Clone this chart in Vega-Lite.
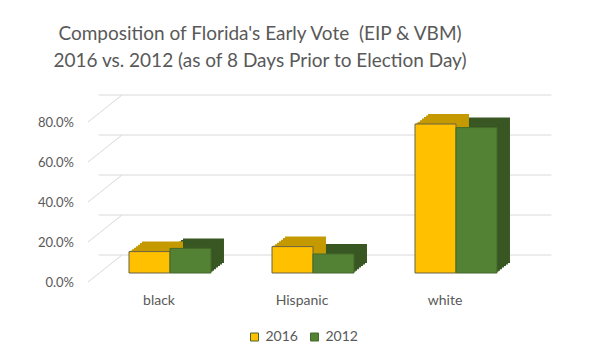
{
  "$schema": "https://vega.github.io/schema/vega-lite/v6.json",
  "width": 429,
  "height": 160,
  "autosize": "none",
  "padding": {"left": 98.5, "top": 113, "right": 72.5, "bottom": 90},
  "background": "white",
  "config": {
    "view": {"stroke": null},
    "font": "Lato",
    "axis": {"labelFont": "Lato", "labelColor": "#595959", "labelFontSize": 13, "ticks": false, "domain": false, "grid": false, "title": null, "labelOverlap": false},
    "axisY": {"values": [0, 0.2, 0.4, 0.6, 0.8], "format": ".1%", "labelOffset": 9, "labelPadding": 25, "labelOverlap": false, "labelBound": false, "tickCount": 5},
    "bar": {"width": {"band": 0.5}}
  },
  "title": {
    "text": ["Composition of Florida's Early Vote \u00a0(EIP & VBM)", "2016 vs. 2012 (as of 8 Days Prior to Election Day)"],
    "font": "Lato",
    "fontSize": 19,
    "fontWeight": "normal",
    "color": "#595959",
    "anchor": "middle",
    "dx": -53,
    "lineHeight": 27,
    "offset": 24
  },
  "datasets": {
    "votes": [
      {"group": "black", "year": "2016", "share": 0.107},
      {"group": "black", "year": "2012", "share": 0.123},
      {"group": "Hispanic", "year": "2016", "share": 0.132},
      {"group": "Hispanic", "year": "2012", "share": 0.095},
      {"group": "white", "year": "2016", "share": 0.745},
      {"group": "white", "year": "2012", "share": 0.727}
    ],
    "ticks": [{"v": 0}, {"v": 0.2}, {"v": 0.4}, {"v": 0.6}, {"v": 0.8}]
  },
  "resolve": {"scale": {"x": "independent"}},
  "layer": [
    {
      "data": {"name": "ticks"},
      "mark": {"type": "rule", "color": "#D9D9D9", "strokeWidth": 1, "xOffset": 24, "x2Offset": 24, "yOffset": -18, "y2Offset": -18},
      "encoding": {
        "y": {"field": "v", "type": "quantitative", "scale": {"domain": [0, 0.8], "nice": false, "zero": true},
              "axis": {"values": [0, 0.2, 0.4, 0.6, 0.8], "format": ".1%", "labelOffset": 9, "labelPadding": 25, "labelOverlap": false}}
      }
    },
    {
      "data": {"name": "ticks"},
      "mark": {"type": "rule", "color": "#D9D9D9", "strokeWidth": 1, "xOffset": -10.5, "x2Offset": 23.5, "yOffset": 9, "y2Offset": -18},
      "encoding": {
        "x": {"datum": 0, "type": "quantitative", "scale": {"domain": [0, 1]}, "axis": null},
        "x2": {"datum": 0},
        "y": {"field": "v", "type": "quantitative",
              "axis": {"values": [0, 0.2, 0.4, 0.6, 0.8], "format": ".1%", "labelOffset": 9, "labelPadding": 25, "labelOverlap": false}},
        "y2": {"field": "v"}
      }
    },
    {
      "data": {"name": "votes"},
      "encoding": {
        "x": {"field": "group", "type": "nominal", "sort": ["black", "Hispanic", "white"],
              "scale": {"paddingInner": 0.427, "paddingOuter": 0.2135},
              "axis": {"labelAngle": 0, "labelOffset": -11, "labelPadding": 20, "labelFontSize": 14}},
        "y": {"field": "share", "type": "quantitative",
              "axis": {"values": [0, 0.2, 0.4, 0.6, 0.8], "format": ".1%", "labelOffset": 9, "labelPadding": 25, "labelOverlap": false}}
      },
      "layer": [
        {"transform": [{"filter": "datum.year === '2012'"}], "mark": {"type": "bar", "color": "#385723", "xOffset": 33.5, "x2Offset": 33.5, "yOffset": -10, "y2Offset": -10}},
        {"transform": [{"filter": "datum.year === '2012'"}], "mark": {"type": "bar", "color": "#385723", "xOffset": 31.5, "x2Offset": 31.5, "yOffset": -8.5, "y2Offset": -8.5}},
        {"transform": [{"filter": "datum.year === '2012'"}], "mark": {"type": "bar", "color": "#385723", "xOffset": 29.5, "x2Offset": 29.5, "yOffset": -6.9, "y2Offset": -6.9}},
        {"transform": [{"filter": "datum.year === '2012'"}], "mark": {"type": "bar", "color": "#385723", "xOffset": 27.5, "x2Offset": 27.5, "yOffset": -5.4, "y2Offset": -5.4}},
        {"transform": [{"filter": "datum.year === '2012'"}], "mark": {"type": "bar", "color": "#385723", "xOffset": 25.5, "x2Offset": 25.5, "yOffset": -3.8, "y2Offset": -3.8}},
        {"transform": [{"filter": "datum.year === '2012'"}], "mark": {"type": "bar", "color": "#385723", "xOffset": 23.5, "x2Offset": 23.5, "yOffset": -2.3, "y2Offset": -2.3}},
        {"transform": [{"filter": "datum.year === '2012'"}], "mark": {"type": "bar", "color": "#385723", "xOffset": 22, "x2Offset": 22, "yOffset": -1.2, "y2Offset": -1.2}},
        {"transform": [{"filter": "datum.year === '2016'"}], "mark": {"type": "bar", "color": "#C49A00", "xOffset": -7.5, "x2Offset": -7.5, "yOffset": -10, "y2Offset": -10}},
        {"transform": [{"filter": "datum.year === '2016'"}], "mark": {"type": "bar", "color": "#C49A00", "xOffset": -9.5, "x2Offset": -9.5, "yOffset": -8.5, "y2Offset": -8.5}},
        {"transform": [{"filter": "datum.year === '2016'"}], "mark": {"type": "bar", "color": "#C49A00", "xOffset": -11.5, "x2Offset": -11.5, "yOffset": -6.9, "y2Offset": -6.9}},
        {"transform": [{"filter": "datum.year === '2016'"}], "mark": {"type": "bar", "color": "#C49A00", "xOffset": -13.5, "x2Offset": -13.5, "yOffset": -5.4, "y2Offset": -5.4}},
        {"transform": [{"filter": "datum.year === '2016'"}], "mark": {"type": "bar", "color": "#C49A00", "xOffset": -15.5, "x2Offset": -15.5, "yOffset": -3.8, "y2Offset": -3.8}},
        {"transform": [{"filter": "datum.year === '2016'"}], "mark": {"type": "bar", "color": "#C49A00", "xOffset": -17.5, "x2Offset": -17.5, "yOffset": -2.3, "y2Offset": -2.3}},
        {"transform": [{"filter": "datum.year === '2016'"}], "mark": {"type": "bar", "color": "#C49A00", "xOffset": -19, "x2Offset": -19, "yOffset": -1.2, "y2Offset": -1.2}},
        {
          "transform": [{"filter": "datum.year === '2016'"}],
          "mark": {"type": "bar", "stroke": "#6B6347", "strokeWidth": 1, "xOffset": -20.5, "x2Offset": -20.5},
          "encoding": {
            "color": {"field": "year", "type": "nominal",
                      "scale": {"domain": ["2016", "2012"], "range": ["#FFC000", "#548235"]},
                      "legend": {"orient": "none", "legendX": 149, "legendY": 217, "direction": "horizontal", "title": null,
                                 "symbolType": "square", "symbolSize": 64, "symbolStrokeWidth": 1, "symbolStrokeColor": "#6B6347",
                                 "labelFont": "Lato", "labelFontSize": 14, "labelColor": "#595959", "labelOffset": 4, "columnPadding": 9}}
          }
        },
        {
          "transform": [{"filter": "datum.year === '2012'"}],
          "mark": {"type": "bar", "stroke": "#44692B", "strokeWidth": 1, "xOffset": 20.5, "x2Offset": 20.5},
          "encoding": {
            "color": {"field": "year", "type": "nominal"}
          }
        }
      ]
    }
  ]
}
